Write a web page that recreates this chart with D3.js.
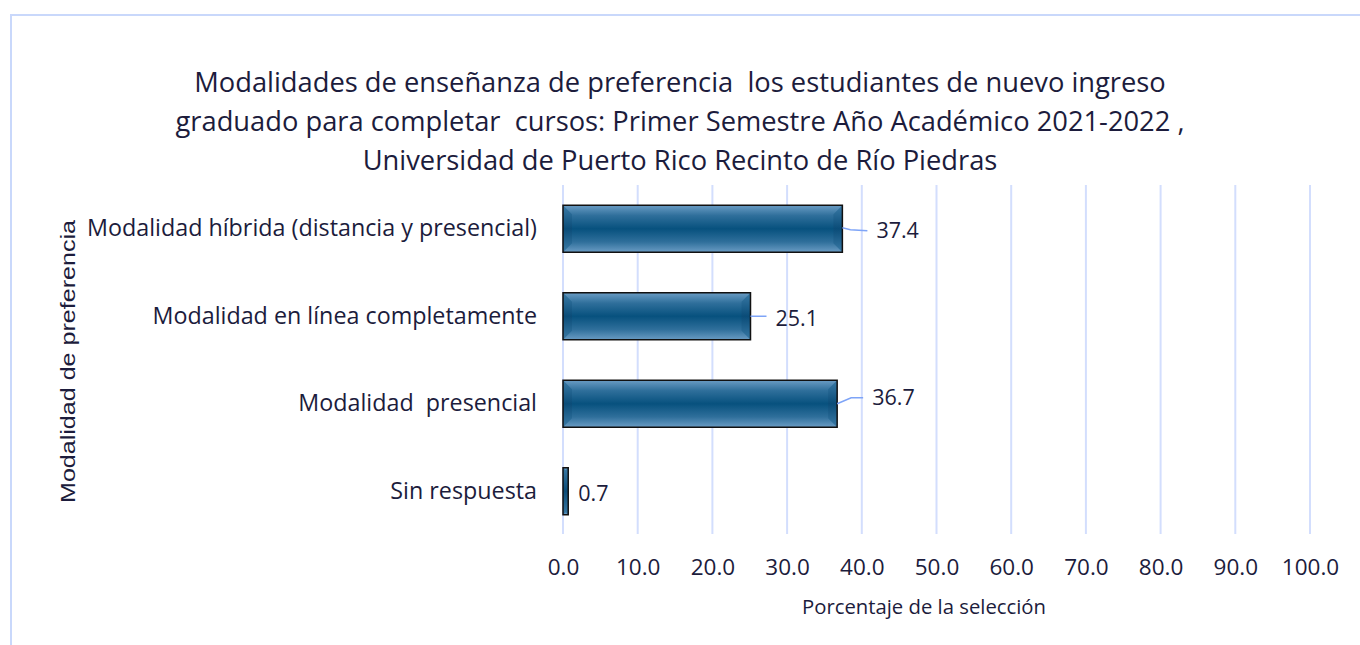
<!DOCTYPE html>
<html>
<head>
<meta charset="utf-8">
<script src="https://cdn.jsdelivr.net/npm/d3@7"></script>
<style>
  body { margin: 0; background: #fff; }
  svg { display: block; }
  text { white-space: pre; }
</style>
</head>
<body>
<svg width="1360" height="645"></svg>
<script>
const categories = [
  "Modalidad híbrida (distancia y presencial)",
  "Modalidad en línea completamente",
  "Modalidad  presencial",
  "Sin respuesta"
];
const values = [37.4, 25.1, 36.7, 0.7];
const xTicks = [0, 10, 20, 30, 40, 50, 60, 70, 80, 90, 100];
const titleLines = [
  "Modalidades de enseñanza de preferencia  los estudiantes de nuevo ingreso",
  "graduado para completar  cursos: Primer Semestre Año Académico 2021-2022 ,",
  "Universidad de Puerto Rico Recinto de Río Piedras"
];
const xTitle = "Porcentaje de la selección";
const yTitle = "Modalidad de preferencia";
// how far each data label sits past its bar end (px)
const labelShift = [34, 25, 35, 10];

const svg = d3.select("svg"),
    width = +svg.attr("width"),
    height = +svg.attr("height");

const textColor = "#1c1c3c";
const gridColor = "#d3defd";
const mainFont = "'Open Sans', sans-serif";

// chart border (only top + left visible in frame)
svg.append("path")
  .attr("d", `M11,${height} V15 H${width}`)
  .attr("fill", "none")
  .attr("stroke", "#c9d8fb")
  .attr("stroke-width", 2);

const x = d3.scaleLinear().domain([0, 100]).range([563, 1310]);
const y = d3.scaleBand().domain(categories).range([185, 535])
  .paddingInner(0.463).paddingOuter(0.2315);

// gradient for bars
const defs = svg.append("defs");
const grad = defs.append("linearGradient")
  .attr("id", "barGrad").attr("x1", 0).attr("y1", 0).attr("x2", 0).attr("y2", 1);
grad.append("stop").attr("offset", "0%").attr("stop-color", "#6a9cc4");
grad.append("stop").attr("offset", "22%").attr("stop-color", "#2f6f9b");
grad.append("stop").attr("offset", "50%").attr("stop-color", "#07517e");
grad.append("stop").attr("offset", "78%").attr("stop-color", "#2f6f9b");
grad.append("stop").attr("offset", "100%").attr("stop-color", "#6a9cc4");

const sideGrad = defs.append("linearGradient")
  .attr("id", "sideGrad").attr("x1", 0).attr("y1", 0).attr("x2", 0).attr("y2", 1);
sideGrad.append("stop").attr("offset", "0%").attr("stop-color", "#3a7aa6");
sideGrad.append("stop").attr("offset", "50%").attr("stop-color", "#0a4c78");
sideGrad.append("stop").attr("offset", "100%").attr("stop-color", "#3a7aa6");

// gridlines
svg.append("g")
  .selectAll("line")
  .data(xTicks)
  .enter().append("line")
  .attr("x1", d => x(d)).attr("x2", d => x(d))
  .attr("y1", 185).attr("y2", 534)
  .attr("stroke", gridColor)
  .attr("stroke-width", 2);

// x axis labels
const xAxis = svg.append("g")
  .attr("transform", "translate(0,556)")
  .call(d3.axisBottom(x).tickValues(xTicks).tickFormat(d3.format(".1f")).tickSize(0));
xAxis.select(".domain").remove();
xAxis.selectAll("text")
  .attr("fill", textColor)
  .style("font-family", mainFont)
  .style("font-size", "22.5px");

// y axis labels
const yAxis = svg.append("g")
  .attr("transform", "translate(540,0)")
  .call(d3.axisLeft(y).tickSize(0));
yAxis.select(".domain").remove();
yAxis.selectAll("text")
  .attr("fill", textColor)
  .attr("x", -3)
  .style("font-family", mainFont)
  .style("font-size", "23.3px");

// bars
const bars = svg.append("g")
  .selectAll("g")
  .data(values)
  .enter().append("g");

bars.append("rect")
  .attr("x", x(0))
  .attr("y", (d, i) => y(categories[i]))
  .attr("width", d => x(d) - x(0))
  .attr("height", y.bandwidth())
  .attr("fill", "url(#barGrad)");

// bevelled ends
bars.append("path")
  .attr("fill", "url(#sideGrad)")
  .attr("d", (d, i) => {
    let x0 = x(0), x1 = x(d), y0 = y(categories[i]), h = y.bandwidth();
    let b = Math.min(9, (x1 - x0) / 2);
    return `M${x0},${y0} L${x0 + b},${y0 + b} L${x0 + b},${y0 + h - b} L${x0},${y0 + h} Z` +
      `M${x1},${y0} L${x1 - b},${y0 + b} L${x1 - b},${y0 + h - b} L${x1},${y0 + h} Z`;
  });

bars.append("rect")
  .attr("x", x(0))
  .attr("y", (d, i) => y(categories[i]))
  .attr("width", d => x(d) - x(0))
  .attr("height", y.bandwidth())
  .attr("fill", "none")
  .attr("stroke", "#111")
  .attr("stroke-width", 1.5);

// leader lines + data labels
bars.filter((d, i) => labelShift[i] > 15)
  .append("path")
  .attr("fill", "none")
  .attr("stroke", "#7ea4f7")
  .attr("stroke-width", 1.5)
  .attr("d", (d, i) => {
    let xe = x(d), yc = y(categories[i]) + y.bandwidth() / 2;
    let xl = xe + labelShift[i] - 9;
    if (i == 0) return `M${xe},${yc - 1} L${xe + 8},${yc + 1} L${xl},${yc + 2}`;
    if (i == 2) return `M${xe},${yc} L${xe + 14},${yc - 6} L${xl},${yc - 6}`;
    return `M${xe},${yc} L${xl},${yc}`;
  });

bars.append("text")
  .attr("x", (d, i) => x(d) + labelShift[i])
  .attr("y", (d, i) => y(categories[i]) + y.bandwidth() / 2 + (i == 2 ? -6 : 2))
  .attr("dy", "0.35em")
  .attr("fill", textColor)
  .style("font-family", mainFont)
  .style("font-size", "21.5px")
  .text(d => d3.format(".1f")(d));

// title
svg.append("text")
  .attr("text-anchor", "middle")
  .attr("fill", textColor)
  .style("font-family", mainFont)
  .style("font-size", "27.3px")
  .selectAll("tspan")
  .data(titleLines)
  .enter().append("tspan")
  .attr("x", 680)
  .attr("y", (d, i) => 92 + i * 39)
  .text(d => d);

// axis titles
svg.append("text")
  .attr("x", 924).attr("y", 614)
  .attr("text-anchor", "middle")
  .attr("fill", textColor)
  .style("font-family", mainFont)
  .style("font-size", "20.3px")
  .text(xTitle);

svg.append("text")
  .attr("transform", "translate(75,361.5) rotate(-90)")
  .attr("text-anchor", "middle")
  .attr("fill", textColor)
  .attr("textLength", 283)
  .attr("lengthAdjust", "spacingAndGlyphs")
  .style("font-family", "'Liberation Sans', Arial, sans-serif")
  .style("font-size", "21px")
  .text(yTitle);
</script>
</body>
</html>
